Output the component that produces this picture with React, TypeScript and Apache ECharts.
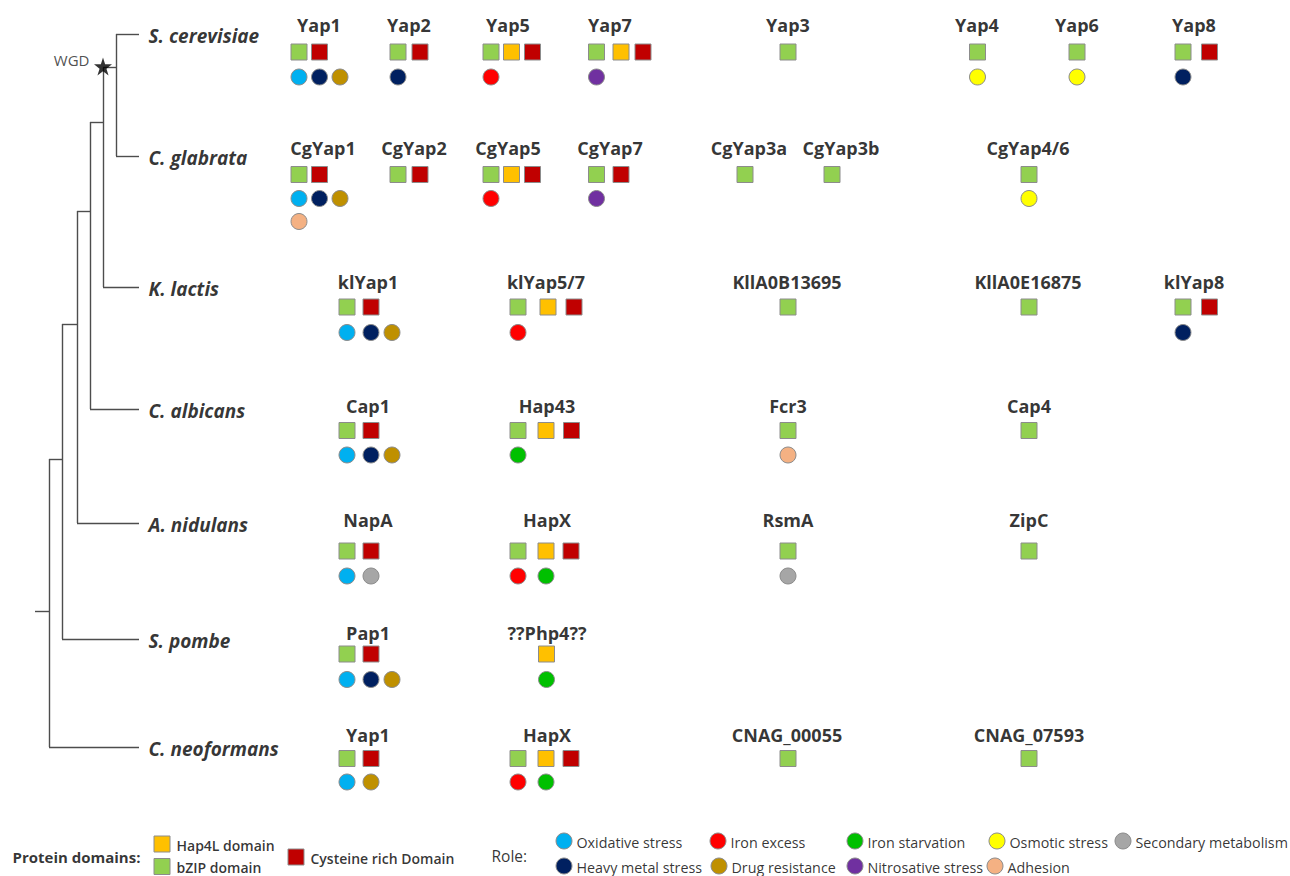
import React, { useEffect, useRef } from "react";
import * as echarts from "echarts";

// ---------- data ----------
const species = ["S. cerevisiae", "C. glabrata", "K. lactis", "C. albicans", "A. nidulans", "S. pombe", "C. neoformans"];

const domainNames = ["bZIP domain", "Hap4L domain", "Cysteine rich Domain"];
const roleNames = [
  "Oxidative stress", "Heavy metal stress", "Iron excess", "Drug resistance", "Iron starvation",
  "Nitrosative stress", "Osmotic stress", "Adhesion", "Secondary metabolism",
];

// gene names, species index, domains (indices into domainNames), roles (indices into roleNames)
const geneNames = [
  "Yap1", "Yap2", "Yap5", "Yap7", "Yap3", "Yap4", "Yap6", "Yap8",
  "CgYap1", "CgYap2", "CgYap5", "CgYap7", "CgYap3a", "CgYap3b", "CgYap4/6",
  "klYap1", "klYap5/7", "KllA0B13695", "KllA0E16875", "klYap8",
  "Cap1", "Hap43", "Fcr3", "Cap4",
  "NapA", "HapX", "RsmA", "ZipC",
  "Pap1", "??Php4??",
  "Yap1", "HapX", "CNAG_00055", "CNAG_07593",
];
const geneSpecies = [
  0, 0, 0, 0, 0, 0, 0, 0,
  1, 1, 1, 1, 1, 1, 1,
  2, 2, 2, 2, 2,
  3, 3, 3, 3,
  4, 4, 4, 4,
  5, 5,
  6, 6, 6, 6,
];
const geneDomains = [
  [0, 2], [0, 2], [0, 1, 2], [0, 1, 2], [0], [0], [0], [0, 2],
  [0, 2], [0, 2], [0, 1, 2], [0, 2], [0], [0], [0],
  [0, 2], [0, 1, 2], [0], [0], [0, 2],
  [0, 2], [0, 1, 2], [0], [0],
  [0, 2], [0, 1, 2], [0], [0],
  [0, 2], [1],
  [0, 2], [0, 1, 2], [0], [0],
];
const geneRoles = [
  [0, 1, 3], [1], [2], [5], [], [6], [6], [1],
  [0, 1, 3, 7], [], [2], [5], [], [], [6],
  [0, 1, 3], [2], [], [], [1],
  [0, 1, 3], [4], [7], [],
  [0, 8], [2, 4], [8], [],
  [0, 1, 3], [4],
  [0, 3], [2, 4], [], [],
];

// ---------- layout (positions in the figure's own units) ----------
const geneLabelX = [
  319, 409, 508, 610, 788, 977, 1077, 1194,
  323, 414, 508, 610, 749, 841, 1028,
  368, 546, 787, 1028, 1194,
  368, 547, 788, 1029,
  368, 547, 788, 1029,
  368, 547,
  368, 547, 787, 1029,
];
const geneSlotX = [
  [299, 319.5, 340], [398, 420], [491, 511.5, 532.5], [596.5, 621, 643], [788], [977.5], [1077], [1183, 1209.5],
  [299, 319.5, 340], [398, 420], [491, 511.5, 532.5], [596.5, 621], [745], [832], [1029],
  [347, 371, 392], [518, 548, 574], [788], [1029], [1183, 1209.5],
  [347, 371, 392], [518, 546, 571.5], [788], [1029],
  [347, 371], [518, 546, 571], [788], [1029],
  [347, 371, 392], [546.5],
  [347, 371], [518, 546, 571], [788], [1029],
];
const rowLabelY = [24.5, 148, 282, 406, 520, 633, 735];
const rowSquareY = [52, 174.5, 307, 430.5, 551, 654, 758.5];
const rowCircleY = [77, 198.5, 332.5, 455, 576, 679.5, 782];
const CIRCLE_ROW_GAP = 23;

// tree
const LEAF_END_X = 139;
const leafY = [34, 156, 287, 409, 523, 639, 747];
const nodeX = [116, 103, 90, 77, 62, 49];
const nodeY = [67.5, 122, 211, 324, 459, 611];
const nodeChildren = [["L0", "L1"], ["N0", "L2"], ["N1", "L3"], ["N2", "L4"], ["N3", "L5"], ["N4", "L6"]];
const ROOT_X = 35;

// legends
const domainLegendOrder = [1, 0, 2];
const domainLegendPos = [[162, 844], [162, 866.5], [296, 857]];
const roleLegendOrder = [0, 2, 4, 6, 8, 1, 3, 5, 7];
const roleLegendPos = [[564, 841], [718, 841], [855, 841], [997, 841], [1123, 841], [564, 866], [719, 866], [855, 866], [995, 866]];

// ---------- styles ----------
const domainColors = ["#92D050", "#FFC000", "#C00000"];
const roleColors = ["#00B0F0", "#002060", "#FF0000", "#BF9000", "#00C000", "#7030A0", "#FFFF00", "#F4B183", "#A6A6A6"];
const FONT = "'Open Sans', 'Noto Sans', sans-serif";

export default function App() {
  const ref = useRef<HTMLDivElement>(null);

  useEffect(() => {
    document.body.style.margin = "0";
    if (!ref.current) return;
    const chart = echarts.init(ref.current, null, { renderer: "svg" });

    // tree segments
    const childPos = (c: string): [number, number] => {
      const i = parseInt(c.slice(1), 10);
      return c[0] === "L" ? [LEAF_END_X, leafY[i]] : [nodeX[i], nodeY[i]];
    };
    const segs: any[] = [];
    nodeChildren.forEach((ch, i) => {
      const ps = ch.map(childPos);
      const ys = ps.map((p) => p[1]);
      segs.push({ coords: [[nodeX[i], Math.min(...ys)], [nodeX[i], Math.max(...ys)]] });
      ps.forEach((p) => segs.push({ coords: [[nodeX[i], p[1]], p] }));
    });
    const last = nodeX.length - 1;
    segs.push({ coords: [[ROOT_X, nodeY[last]], [nodeX[last], nodeY[last]]] });

    // squares & circles
    const squareData: any[][] = domainNames.map(() => []);
    const circleData: any[][] = roleNames.map(() => []);
    geneNames.forEach((g, gi) => {
      const s = geneSpecies[gi];
      const slots = geneSlotX[gi];
      geneDomains[gi].forEach((d, k) => squareData[d].push([slots[k], rowSquareY[s]]));
      geneRoles[gi].forEach((r, k) => {
        const col = k % 3;
        const rowOff = Math.floor(k / 3);
        circleData[r].push([slots[col], rowCircleY[s] + rowOff * CIRCLE_ROW_GAP]);
      });
    });
    domainLegendOrder.forEach((d, i) => squareData[d].push(domainLegendPos[i]));
    roleLegendOrder.forEach((r, i) => circleData[r].push(roleLegendPos[i]));

    const clear = { color: "rgba(0,0,0,0)" };
    const textSeries = (name: string, data: any[], label: any) => ({
      type: "scatter",
      name,
      symbolSize: 1,
      itemStyle: clear,
      silent: true,
      z: 5,
      data,
      label: { show: true, formatter: (p: any) => p.data.name, ...label },
    });

    const series: any[] = [
      {
        type: "lines",
        name: "tree",
        coordinateSystem: "cartesian2d",
        data: segs,
        lineStyle: { color: "#4d4d4d", width: 1.4, opacity: 1 },
        silent: true,
        z: 1,
      },
      {
        type: "scatter",
        name: "WGD",
        symbol: "path://M50 0 L61.8 36.2 L100 36.2 L69.1 58.8 L80.9 95.1 L50 72.6 L19.1 95.1 L30.9 58.8 L0 36.2 L38.2 36.2 Z",
        symbolSize: 18,
        itemStyle: { color: "#000" },
        data: [[nodeX[1], nodeY[0] - 1]],
        z: 4,
      },
      ...domainNames.map((n, d) => ({
        type: "scatter",
        name: n,
        symbol: "rect",
        symbolSize: 16,
        itemStyle: { color: domainColors[d], borderColor: "#8c8c8c", borderWidth: 1, opacity: 1 },
        data: squareData[d],
        z: 3,
      })),
      ...roleNames.map((n, r) => ({
        type: "scatter",
        name: n,
        symbol: "circle",
        symbolSize: 16,
        itemStyle: { color: roleColors[r], borderColor: "#8c8c8c", borderWidth: 1, opacity: 1 },
        data: circleData[r],
        z: 3,
      })),
      textSeries(
        "species",
        species.map((s, i) => ({ name: s, value: [LEAF_END_X + 9, leafY[i] + 1.5] })),
        { position: "right", distance: 0, fontFamily: FONT, fontSize: 19, fontWeight: "bold", fontStyle: "italic", color: "#000" }
      ),
      textSeries(
        "genes",
        geneNames.map((g, i) => ({ name: g, value: [geneLabelX[i], rowLabelY[geneSpecies[i]]] })),
        { position: "inside", fontFamily: FONT, fontSize: 18, fontWeight: "bold", color: "#000" }
      ),
      textSeries(
        "wgd",
        [{ name: "WGD", value: [90, 60] }],
        { position: "left", distance: 0, fontFamily: FONT, fontSize: 15, color: "#222" }
      ),
      textSeries(
        "domainTitle",
        [{ name: "Protein domains:", value: [12, 857] }],
        { position: "right", distance: 0, fontFamily: FONT, fontSize: 15, fontWeight: "bold", color: "#000" }
      ),
      textSeries(
        "domainLegend",
        domainLegendOrder.map((d, i) => ({
          name: domainNames[d],
          value: [domainLegendPos[i][0] + 14, domainLegendPos[i][1] + 1],
        })),
        { position: "right", distance: 0, fontFamily: FONT, fontSize: 14, fontWeight: 600, color: "#000" }
      ),
      textSeries(
        "roleTitle",
        [{ name: "Role:", value: [491, 856] }],
        { position: "right", distance: 0, fontFamily: FONT, fontSize: 15.5, color: "#000" }
      ),
      textSeries(
        "roleLegend",
        roleLegendOrder.map((r, i) => ({
          name: roleNames[r],
          value: [roleLegendPos[i][0] + 12, roleLegendPos[i][1] + 1],
        })),
        { position: "right", distance: 0, fontFamily: FONT, fontSize: 14.3, color: "#000" }
      ),
    ];

    chart.setOption({
      animation: false,
      backgroundColor: "#ffffff",
      grid: { left: 0, right: 0, top: 0, bottom: 0, containLabel: false },
      xAxis: { type: "value", min: 0, max: 1290, show: false },
      yAxis: { type: "value", min: 0, max: 876, inverse: true, show: false },
      series,
    });

    return () => chart.dispose();
  }, []);

  return <div ref={ref} style={{ width: 1290, height: 876 }} />;
}
